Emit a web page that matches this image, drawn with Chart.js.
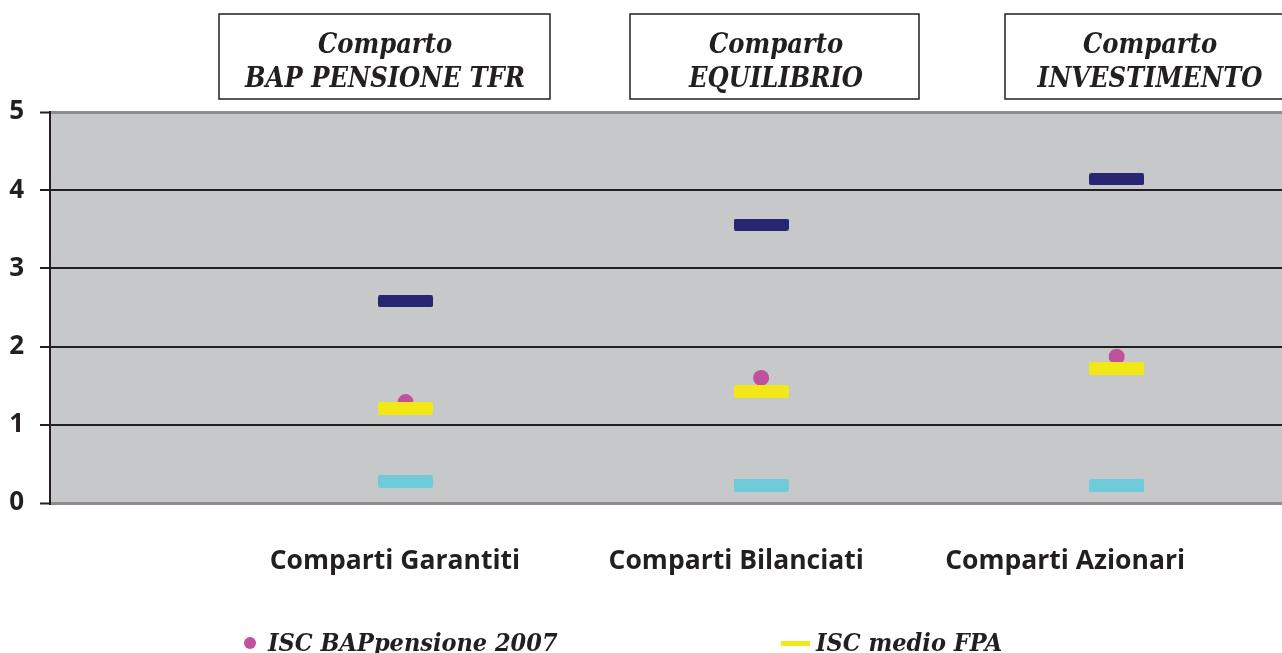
<!DOCTYPE html>
<html lang="it">
<head>
    <meta charset="UTF-8">
    <title>ISC comparti</title>
    <style>
        body { margin: 0; padding: 0; background: #fff; overflow: hidden; }
        #wrap { width: 1282px; height: 653px; }
    </style>
    <script src="https://cdn.jsdelivr.net/npm/chart.js"></script>
</head>
<body>
    <div id="wrap"><canvas id="iscChart" width="1282" height="653"></canvas></div>

    <script>
        // dati
        const categories = ['Comparti Garantiti', 'Comparti Bilanciati', 'Comparti Azionari'];
        const comparti = ['BAP PENSIONE TFR', 'EQUILIBRIO', 'INVESTIMENTO'];
        const iscBap = [1.29, 1.60, 1.87];
        const iscMedio = [1.21, 1.43, 1.72];
        const iscMax = [2.58, 3.56, 4.14];
        const iscMin = [0.28, 0.23, 0.22];
        const yTicks = [0, 1, 2, 3, 4, 5];

        // posizioni delle etichette di categoria (un po' a sinistra dei segni)
        const labelPos = [0.97, 1.93, 2.855];

        const INK = '#231f20';
        const serif = '"DejaVu Serif Condensed", "DejaVu Serif", serif';
        const sans = '"Open Sans", sans-serif';

        function dash(color, w, h) {
            const c = document.createElement('canvas');
            c.width = w; c.height = h;
            const g = c.getContext('2d');
            g.fillStyle = color;
            g.beginPath();
            g.roundRect(0, 0, w, h, 2);
            g.fill();
            return c;
        }

        const toPoints = arr => arr.map((v, i) => ({ x: i + 1, y: v }));

        // sfondo grigio dell'area del grafico
        const plotBg = {
            id: 'plotBg',
            beforeDraw(chart) {
                const { ctx, chartArea: a } = chart;
                ctx.save();
                ctx.fillStyle = '#c7c8ca';
                ctx.fillRect(a.left, a.top, a.right - a.left, a.bottom - a.top);
                ctx.restore();
            }
        };

        // riquadri dei comparti in alto + legenda in basso
        const extras = {
            id: 'extras',
            afterDraw(chart) {
                const ctx = chart.ctx;
                const boxes = [[219, 550, 385], [630, 919, 776], [1005, 1300, 1150]];
                ctx.save();
                boxes.forEach(([l, r, cx], i) => {
                    ctx.fillStyle = '#fff';
                    ctx.fillRect(l, 14, r - l, 85);
                    ctx.strokeStyle = INK;
                    ctx.lineWidth = 1.5;
                    ctx.strokeRect(l, 14, r - l, 85);
                    ctx.fillStyle = INK;
                    ctx.font = 'italic bold 27px ' + serif;
                    ctx.textAlign = 'center';
                    ctx.textBaseline = 'alphabetic';
                    ctx.fillText('Comparto', cx, 53);
                    ctx.fillText(comparti[i], cx, 87);
                });

                const ds = chart.data.datasets;
                ctx.font = 'italic bold 25px ' + serif;
                ctx.textAlign = 'left';
                ctx.fillStyle = ds[3].backgroundColor;
                ctx.beginPath();
                ctx.arc(250, 643, 6, 0, Math.PI * 2);
                ctx.fill();
                ctx.fillStyle = INK;
                ctx.fillText(ds[3].label, 268, 651);

                ctx.fillStyle = ds[2].backgroundColor;
                ctx.fillRect(781, 641, 29, 5);
                ctx.fillStyle = INK;
                ctx.fillText(ds[2].label, 816, 651);
                ctx.restore();
            }
        };

        new Chart(document.getElementById('iscChart'), {
            type: 'scatter',
            data: {
                datasets: [
                    { label: 'ISC massimo FPA', data: toPoints(iscMax), backgroundColor: '#262672', pointStyle: dash('#262672', 55, 12) },
                    { label: 'ISC minimo FPA', data: toPoints(iscMin), backgroundColor: '#6ecbd9', pointStyle: dash('#6ecbd9', 55, 13) },
                    { label: 'ISC medio FPA', data: toPoints(iscMedio), backgroundColor: '#f2e717', pointStyle: dash('#f2e717', 55, 13) },
                    { label: 'ISC BAPpensione 2007', data: toPoints(iscBap), backgroundColor: '#c0519f', pointStyle: 'circle', pointRadius: 8, borderWidth: 0 }
                ]
            },
            options: {
                responsive: false,
                animation: false,
                events: [],
                layout: { autoPadding: false, padding: { top: 112, left: 0, right: 0, bottom: 0 } },
                elements: { point: { radius: 5, borderWidth: 0 } },
                scales: {
                    x: {
                        type: 'linear',
                        min: 0,
                        max: 3.465,
                        afterFit(s) { s.height = 150; },
                        afterBuildTicks(s) { s.ticks = labelPos.map(v => ({ value: v })); },
                        grid: { display: false, drawTicks: false },
                        border: { display: false },
                        ticks: {
                            padding: 43,
                            color: INK,
                            maxRotation: 0,
                            autoSkip: false,
                            font: { family: sans, weight: 'bold', size: 26.5 },
                            callback: (v, i) => categories[i]
                        }
                    },
                    y: {
                        min: 0,
                        max: 5,
                        afterFit(s) { s.width = 50; },
                        afterBuildTicks(s) { s.ticks = yTicks.map(v => ({ value: v })); },
                        grid: {
                            color: c => (c.tick.value === 0 || c.tick.value === 5) ? '#8d8d8f' : INK,
                            lineWidth: c => (c.tick.value === 0 || c.tick.value === 5) ? 3 : 2,
                            tickColor: INK,
                            tickWidth: 2,
                            tickLength: 10
                        },
                        border: { color: INK, width: 2 },
                        ticks: {
                            padding: 16,
                            color: INK,
                            font: { family: sans, weight: 'bold', size: 26 }
                        }
                    }
                },
                plugins: {
                    legend: { display: false },
                    tooltip: { enabled: false }
                }
            },
            plugins: [plotBg, extras]
        });
    </script>
</body>
</html>
